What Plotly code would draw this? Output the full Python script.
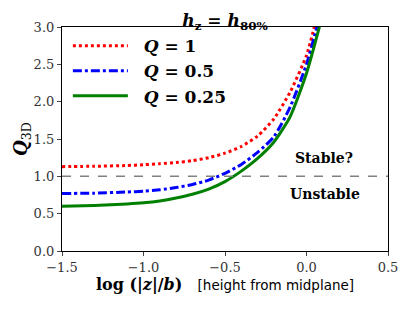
import plotly.graph_objects as go

# data
x_red = [-1.5, -1.3, -1.1, -1.0, -0.9, -0.8, -0.7, -0.6, -0.5, -0.4, -0.3, -0.2, -0.1, 0.0, 0.05]
q_red = [1.13, 1.135, 1.145, 1.155, 1.17, 1.185, 1.21, 1.25, 1.31, 1.40, 1.54, 1.77, 2.13, 2.62, 3.02]

x_blue = [-1.5, -1.3, -1.1, -1.0, -0.9, -0.8, -0.7, -0.6, -0.5, -0.4, -0.3, -0.2, -0.1, 0.0, 0.07]
q_blue = [0.77, 0.775, 0.79, 0.80, 0.82, 0.85, 0.89, 0.95, 1.04, 1.16, 1.32, 1.53, 1.93, 2.50, 3.05]

x_green = [-1.5, -1.3, -1.1, -1.0, -0.9, -0.8, -0.7, -0.6, -0.5, -0.4, -0.3, -0.2, -0.1, 0.0, 0.085]
q_green = [0.60, 0.61, 0.63, 0.645, 0.67, 0.71, 0.76, 0.83, 0.93, 1.07, 1.24, 1.46, 1.80, 2.38, 3.05]

names = ["<b><i>Q</i> = 1</b>", "<b><i>Q</i> = 0.5</b>", "<b><i>Q</i> = 0.25</b>"]
x_ticks = [-1.5, -1.0, -0.5, 0.0, 0.5]
x_ticklabels = ["\u22121.5", "\u22121.0", "\u22120.5", "0.0", "0.5"]
y_ticks = [0.0, 0.5, 1.0, 1.5, 2.0, 2.5, 3.0]
threshold = 1.0

SERIF = "DejaVu Serif"
PAD = "\u00a0\u00a0"

fig = go.Figure()
fig.add_trace(go.Scatter(x=x_red, y=q_red, mode="lines", name=PAD + names[0],
                         line=dict(color="#ff0000", width=3, dash="dot", shape="spline", smoothing=0.6)))
fig.add_trace(go.Scatter(x=x_blue, y=q_blue, mode="lines", name=PAD + names[1],
                         line=dict(color="#0000ff", width=3, dash="dashdot", shape="spline", smoothing=0.6)))
fig.add_trace(go.Scatter(x=x_green, y=q_green, mode="lines", name=PAD + names[2],
                         line=dict(color="#008000", width=3, shape="spline", smoothing=0.6)))

fig.add_hline(y=threshold, line=dict(color="gray", width=1.5, dash="dash"))

fig.add_annotation(x=0.11, y=1.24, text="<b>Stable?</b>", showarrow=False,
                   font=dict(family=SERIF, size=14, color="black"))
fig.add_annotation(x=0.115, y=0.76, text="<b>Unstable</b>", showarrow=False,
                   font=dict(family=SERIF, size=14, color="black"))

fig.update_layout(
    width=407, height=303,
    margin=dict(l=54, r=27, t=15, b=60),
    paper_bgcolor="white", plot_bgcolor="white",
    title=dict(text="<b><i>h</i><sub>z</sub> = <i>h</i><sub>80%</sub></b>",
               x=0.5, xref="paper", y=1, yref="paper", yanchor="bottom",
               pad=dict(b=1),
               font=dict(family=SERIF, size=17, color="black")),
    legend=dict(x=0.018, y=0.995, xanchor="left", yanchor="top",
                bgcolor="rgba(0,0,0,0)", font=dict(family=SERIF, size=17, color="black"),
                itemwidth=55, tracegroupgap=3),
    showlegend=True,
)
fig.update_xaxes(range=[-1.5, 0.5], tickvals=x_ticks, ticktext=x_ticklabels,
                 showgrid=False, zeroline=False, showline=True, linecolor="black",
                 linewidth=1.2, mirror=True, ticks="outside", ticklen=4,
                 tickfont=dict(family=SERIF, size=13, color="#333"),
                 title=dict(text="<b>log (|<i>z</i>|/<i>b</i>)</b>   <span style='font-family:DejaVu Sans;font-size:13.5px'>[height from midplane]</span>",
                            font=dict(family=SERIF, size=16, color="black"), standoff=4))
fig.update_yaxes(range=[0, 3], tickvals=y_ticks, tickformat=".1f",
                 showgrid=False, zeroline=False, showline=True, linecolor="black",
                 linewidth=1.2, mirror=True, ticks="outside", ticklen=4,
                 tickfont=dict(family=SERIF, size=13, color="#333"),
                 title=dict(text="<b><i>Q</i></b><sub>3D</sub>",
                            font=dict(family=SERIF, size=18, color="black"), standoff=1))

fig.write_html("out.html")
